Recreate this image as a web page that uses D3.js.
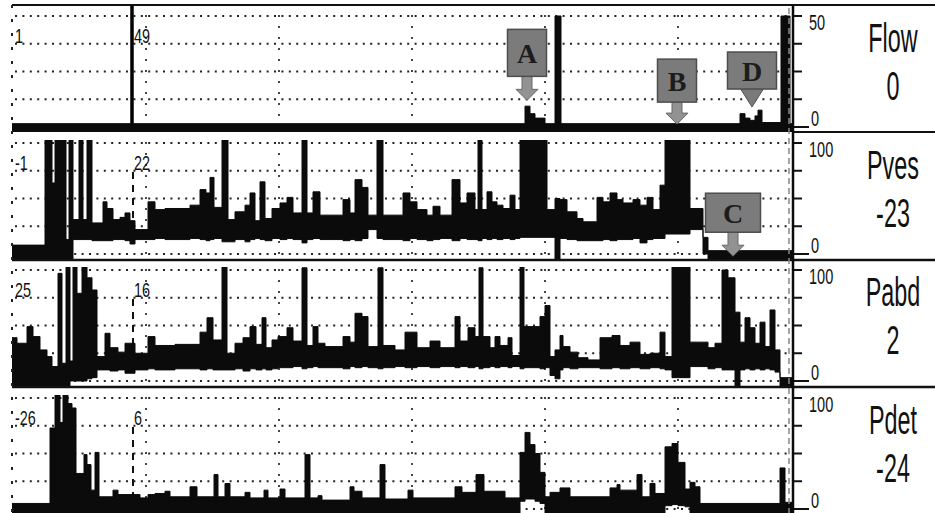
<!DOCTYPE html>
<meta charset="utf-8">
<script src="https://d3js.org/d3.v7.min.js"></script>
<style>
  body { margin: 0; background: #fff; }
  text { font-family: 'Liberation Sans', Arial, sans-serif; fill: #111; }
</style>
<body>
<div id="trace"></div>
<script>
// ---- channel info ----
const channels = ["Flow", "Pves", "Pabd", "Pdet"];
const liveValues = ["0", "-23", "2", "-24"];
const axisMax = [50, 100, 100, 100];
const startLabels = ["1", "-1", "25", "-26"];
const markerLabels = ["49", "22", "16", "6"];
const markerTime = 120;

// ---- traces: step start times (s), upper and lower envelope ----
const flowT  = [0, 513, 518, 523, 533, 543, 549, 728, 733, 738, 743, 746, 750, 769, 778, 781];
const flowHi = [1.5, 9.4, 6, 4, 1.5, 50, 1.5, 6, 4, 3, 5, 7.6, 2, 50, 1.5];
const flowLo = [-3, -3, -3, -3, -3, -3, -3, -3, -3, -3, -3, -3, -3, -3, -3];

const pvesT = [0,33,40,43,54,57,61,67,71,75,80,91,95,101,108,113,118,123,136,143,
  153,178,188,194,198,202,210,216,223,233,238,243,248,253,260,268,275,281,290,295,
  301,308,331,338,343,350,356,365,371,391,398,405,415,421,428,440,448,455,463,466,
  470,475,480,485,491,498,503,508,535,543,548,555,565,571,585,591,598,605,611,621,
  628,635,641,648,653,678,691,696,781];
const pvesHi = [8,110,64,110,13,110,31,110,31,110, 28,47,41,31,33,37,30,22,47,40,
  41,44,58,55,69,42,110,31,38,44, 55,30,65,32,41,46,51,37,110,37,
  56,35,49,37,67,60,35,110,35,55, 47,40,35,43,35,67,46,55,40,110,
  40,56,47,44,41,53,40,110,40,50, 49,38,32,29,51,47,55,49,46,49,
  44,51,40,62,110,41,15,3];
const pvesLo = [-5,-5,-5,-5,-5,-5,13,13,13,13, 12,12,12,13,13,12,9,13,13,14,
  13,14,13,12,13,14,11,11,13,11, 13,14,13,12,14,13,14,13,10,13,
  14,13,12,13,12,14,22,14,13,12, 14,13,12,13,14,12,14,13,13,12,
  14,13,14,13,14,13,14,15,15,-8, 14,13,12,12,12,13,12,13,13,14,
  10,13,14,14,18,22,0,-5];

const pabdT = [0,5,15,21,28,35,40,46,50,54, 58,61,65,70,75,80,85,93,98,106,
  113,123,136,143,163,188,195,201,210,215, 223,231,238,244,250,254,260,266,275,281,
  290,295,301,306,313,331,338,343,350,356, 366,371,383,393,405,418,428,443,448,456,
  463,467,471,478,483,488,496,500,508,512, 528,533,538,543,548,551,558,566,576,588,
  600,608,618,628,638,648,653,660,678,696, 703,710,716,723,728,733,738,743,748,753,
  758,763,768,781];
const pabdHi = [39,34,49,40,28,22,13,97,16,103, 18,103,79,103,93,82,22,43,30,26,
  34,25,40,32,33,44,57,37,103,25, 34,39,49,33,57,30,37,40,48,36,
  102,32,49,34,31,40,35,61,58,31, 102,32,28,44,30,36,30,58,36,48,
  40,102,40,30,40,32,39,23,103,49, 58,68,22,28,41,31,26,21,19,39,
  41,32,35,24,25,44,22,103,35,30, 34,100,93,62,35,57,48,34,53,31,
  64,28,3];
const pabdLo = [-5,-5,-5,-5,-5,-5,-5,-5,-5,-5, 0,0,0,0,2,3,10,10,9,10,
  7,10,11,10,11,10,11,10,10,10, 11,9,11,10,11,10,11,12,12,13,
  11,12,13,12,12,11,13,12,13,12, 11,12,13,12,13,12,13,12,13,12,
  13,11,12,13,12,13,12,13,11,12, 11,12,5,2,10,12,11,12,12,11,
  12,11,12,11,12,11,10,3,13,11, 12,10,10,-6,10,11,10,11,10,11,
  10,8,-6];

const pdetT = [0,38,43,48,51,56,60,64,72,75, 79,83,87,101,106,128,136,143,153,158,
  178,185,202,206,213,218,233,238,252,256, 268,273,293,298,306,310,338,342,350,368,
  373,396,401,443,450,464,472,493,508,513, 518,523,528,533,538,548,558,598,605,608,
  625,630,638,643,653,660,666,673,678,683, 688,768,773,781];
const pdetHi = [5,73,105,78,105,95,91,32,49,40, 17,51,11,17,13,10,13,14,16,11,
  20,11,31,11,23,11,15,10,17,10, 18,10,49,10,12,8,20,16,10,40,
  9,17,10,20,15,31,16,10,51,69, 58,50,33,11,15,19,11,19,22,17,
  31,11,23,14,56,59,42,18,24,20, 5,37,6];
const pdetLo = [-4,-4,-4,-4,-4,-4,-4,-4,-4,-4, -4,-4,-4,-4,-4,-4,-4,-4,-4,-4,
  -4,-4,-4,-4,-4,-4,-4,-4,-4,-4, -4,-4,-4,-4,-4,-4,-4,-4,-4,-4,
  -4,-4,-4,-4,-4,-4,-4,-4,7,9, 9,7,5,-4,-4,-4,-4,-4,-4,-4,
  -4,-4,-4,-4,3,4,3,2,-4,-4, -4,-4,-4];

// ---- event marks ----
const annoLetters = ["A", "B", "C", "D"];
const annoPanel   = [0, 0, 1, 0];
const annoTime    = [515, 665, 721, 740];
const annoValue   = [12, 1.3, -2, 9];

// ---- layout ----
const W = 935, H = 513;
const panelTop = [5, 132, 259, 387];
const panelBottom = [132, 259, 387, 513];
const plotLeft = 12, plotRight = 793;

const svg = d3.select("#trace").append("svg")
  .attr("width", W).attr("height", H)
  .style("display", "block");

svg.append("rect").attr("width", W).attr("height", H).attr("fill", "#fff");

const x = d3.scaleLinear().domain([0, 781]).range([plotLeft, plotRight]);
const yScales = axisMax.map((m, i) =>
  d3.scaleLinear().domain([0, m]).range([panelTop[i] + 122, panelTop[i] + 11]));

const traces = [
  [flowT, flowHi, flowLo],
  [pvesT, pvesHi, pvesLo],
  [pabdT, pabdHi, pabdLo],
  [pdetT, pdetHi, pdetLo]
];

function squeezed(g, px, py, str, size, sx, anchor) {
  return g.append("text")
    .attr("transform", "translate(" + px + "," + py + ") scale(" + sx + ",1)")
    .attr("text-anchor", anchor)
    .style("font-size", size + "px")
    .text(str);
}

channels.forEach(function(name, i) {
  const y = yScales[i];
  const g = svg.append("g");

  g.append("clipPath").attr("id", "clip" + i)
    .append("rect")
      .attr("x", plotLeft).attr("y", panelTop[i] + 8)
      .attr("width", plotRight - plotLeft)
      .attr("height", panelBottom[i] - panelTop[i] - 8);

  // dotted grid
  const ticks = d3.range(0, axisMax[i] + 0.01, axisMax[i] / 4);
  g.selectAll(".hgrid").data(ticks).enter().append("line")
    .attr("x1", plotLeft + 3).attr("x2", plotRight - 6)
    .attr("y1", d => y(d)).attr("y2", d => y(d))
    .attr("stroke", "#222").attr("stroke-width", 2)
    .attr("stroke-dasharray", "2,5.4");
  g.selectAll(".vgrid").data(d3.range(134, 781, 133)).enter().append("line")
    .attr("x1", d => x(d)).attr("x2", d => x(d))
    .attr("y1", panelTop[i] + 10).attr("y2", panelBottom[i] - 4)
    .attr("stroke", "#333").attr("stroke-width", 1.8)
    .attr("stroke-dasharray", "2,9");

  // marker line
  if (i === 0) {
    g.append("line")
      .attr("x1", x(markerTime)).attr("x2", x(markerTime))
      .attr("y1", panelTop[i]).attr("y2", panelBottom[i])
      .attr("stroke", "#000").attr("stroke-width", 3.5);
  } else {
    g.append("line")
      .attr("x1", x(markerTime) + 1).attr("x2", x(markerTime) + 1)
      .attr("y1", panelTop[i] + 40).attr("y2", panelBottom[i] - 14)
      .attr("stroke", "#111").attr("stroke-width", 2)
      .attr("stroke-dasharray", "7,6");
  }

  // trace
  const T = traces[i][0], Hi = traces[i][1], Lo = traces[i][2];
  const pts = T.map((t, k) => ({
    t: t,
    hi: Hi[Math.min(k, Hi.length - 1)],
    lo: Lo[Math.min(k, Lo.length - 1)]
  }));
  const area = d3.area()
    .x(d => x(d.t))
    .y0(d => y(d.lo))
    .y1(d => y(d.hi))
    .curve(d3.curveStepAfter);
  g.append("path").datum(pts)
    .attr("clip-path", "url(#clip" + i + ")")
    .attr("d", area)
    .attr("fill", "#0b0b0b")
    .attr("stroke", "#0b0b0b").attr("stroke-width", 1);

  // left start value and marker value
  squeezed(g, plotLeft + 3, panelTop[i] + 38, startLabels[i], 20, 0.72, "start");
  squeezed(g, x(markerTime) + 2, panelTop[i] + 38, markerLabels[i], 20, 0.72, "start");

  // right axis ticks
  g.selectAll(".tick").data(ticks).enter().append("line")
    .attr("x1", plotRight).attr("x2", d => d === 0 ? plotRight + 16 : plotRight + 9)
    .attr("y1", d => y(d)).attr("y2", d => y(d))
    .attr("stroke", "#111").attr("stroke-width", 2);
  squeezed(g, plotRight + 16, y(axisMax[i]) + 14, String(axisMax[i]), 22, 0.66, "start");
  squeezed(g, plotRight + 18, y(0) - 1, "0", 22, 0.66, "start");

  // channel name and live value
  squeezed(g, 893, panelTop[i] + 47, name, 41, 0.57, "middle");
  squeezed(g, 893, panelTop[i] + 95, liveValues[i], 41, 0.57, "middle");
});

// frame lines
svg.append("line").attr("x1", plotLeft).attr("x2", W)
  .attr("y1", 5).attr("y2", 5).attr("stroke", "#111").attr("stroke-width", 2.2);
[132, 260, 387].forEach(function(v, k) {
  svg.append("line").attr("x1", k === 0 ? plotRight : plotLeft).attr("x2", W)
    .attr("y1", v).attr("y2", v)
    .attr("stroke", "#111").attr("stroke-width", k === 0 ? 1.8 : 2.6);
});
svg.append("line").attr("x1", plotLeft).attr("x2", plotLeft)
  .attr("y1", 5).attr("y2", H)
  .attr("stroke", "#222").attr("stroke-width", 2)
  .attr("stroke-dasharray", "3,11");
svg.append("line").attr("x1", plotRight - 4).attr("x2", plotRight - 4)
  .attr("y1", 8).attr("y2", H)
  .attr("stroke", "#888").attr("stroke-width", 1.5)
  .attr("stroke-dasharray", "6,4");
svg.append("line").attr("x1", plotRight).attr("x2", plotRight)
  .attr("y1", 5).attr("y2", H)
  .attr("stroke", "#0b0b0b").attr("stroke-width", 2.5);

// annotation boxes
const boxSize = { A: [39, 47, 24], B: [39, 43, 22], C: [55, 39, 24], D: [49, 37, 18] };
annoLetters.forEach(function(letter, k) {
  const tx = x(annoTime[k]);
  const ty = yScales[annoPanel[k]](annoValue[k]);
  const w = boxSize[letter][0], h = boxSize[letter][1], gap = boxSize[letter][2];
  const bottom = ty - gap;
  const g = svg.append("g");
  if (letter === "D") {
    g.append("path")
      .attr("d", "M" + (tx - 12) + "," + (bottom - 1) + "L" + tx + "," + ty +
        "L" + (tx + 12) + "," + (bottom - 1) + "Z")
      .attr("fill", "#7a7a7a").attr("stroke", "#555").attr("stroke-width", 1);
  } else {
    const hw = 5, hh = 11, head = 11;
    g.append("path")
      .attr("d", "M" + (tx - hw) + "," + bottom + "L" + (tx - hw) + "," + (ty - hh) +
        "L" + (tx - head) + "," + (ty - hh) + "L" + tx + "," + ty +
        "L" + (tx + head) + "," + (ty - hh) + "L" + (tx + hw) + "," + (ty - hh) +
        "L" + (tx + hw) + "," + bottom + "Z")
      .attr("fill", "#929292").attr("stroke", "#666").attr("stroke-width", 1);
  }
  g.append("rect")
    .attr("x", tx - w / 2).attr("y", bottom - h)
    .attr("width", w).attr("height", h)
    .attr("fill", "#7b7b7b").attr("stroke", "#4d4d4d").attr("stroke-width", 1.5);
  g.append("text")
    .attr("x", tx).attr("y", bottom - h / 2 + 10)
    .attr("text-anchor", "middle")
    .style("font-family", "'Liberation Serif', 'DejaVu Serif', serif")
    .style("font-weight", "bold")
    .style("font-size", "28px")
    .style("fill", "#1c1c1c")
    .text(letter);
});
</script>
</body>
